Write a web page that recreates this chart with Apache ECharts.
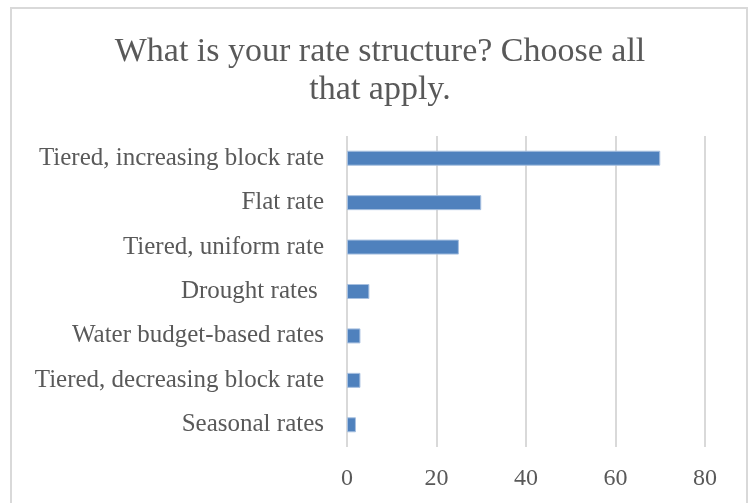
<!DOCTYPE html>
<html>
<head>
<meta charset="utf-8">
<style>
  html, body { margin: 0; padding: 0; background: #ffffff; }
  #chart { width: 748px; height: 503px; }
</style>
<script src="https://cdn.jsdelivr.net/npm/echarts@6/dist/echarts.min.js"></script>
</head>
<body>
<div id="chart"></div>
<script>
// Survey answers: rate structures in use (multiple choice allowed)
const categories = [
  'Tiered, increasing block rate',
  'Flat rate',
  'Tiered, uniform rate',
  'Drought rates ',
  'Water budget-based rates',
  'Tiered, decreasing block rate',
  'Seasonal rates'
];
const responses = [70, 30, 25, 5, 3, 3, 2];
const axisTicks = [0, 20, 40, 60, 80];

const serif = '"Liberation Serif", "DejaVu Serif", serif';
const textGray = '#595959';
const lineGray = '#d9d9d9';

const chart = echarts.init(document.getElementById('chart'), null, { renderer: 'canvas' });
chart.setOption({
  animation: false,
  backgroundColor: '#ffffff',
  title: {
    text: 'What is your rate structure? Choose all\nthat apply.',
    left: 375,
    textAlign: 'center',
    top: 28,
    textStyle: {
      fontFamily: serif,
      fontSize: 34,
      fontWeight: 'normal',
      color: textGray,
      lineHeight: 38
    }
  },
  graphic: [{
    type: 'rect',
    shape: { x: 11, y: 8, width: 736, height: 520 },
    style: { fill: 'none', stroke: lineGray, lineWidth: 2 },
    silent: true,
    z: -1
  }],
  grid: { left: 347, right: 43, top: 136, bottom: 56, containLabel: false },
  xAxis: {
    type: 'value',
    min: axisTicks[0],
    max: axisTicks[axisTicks.length - 1],
    interval: axisTicks[1] - axisTicks[0],
    axisLine: { show: false },
    axisTick: { show: false },
    splitLine: { show: true, lineStyle: { color: lineGray, width: 2 } },
    axisLabel: {
      margin: 20,
      fontFamily: serif,
      fontSize: 24,
      color: textGray
    }
  },
  yAxis: {
    type: 'category',
    data: categories,
    inverse: true,
    axisLine: { show: false },
    axisTick: { show: false },
    axisLabel: {
      margin: 23,
      fontFamily: serif,
      fontSize: 25,
      color: textGray
    }
  },
  series: [{
    type: 'bar',
    data: responses,
    barWidth: 15,
    itemStyle: {
      color: '#4f81bd',
      borderColor: '#a7c0e0',
      borderWidth: 1
    }
  }]
});
</script>
</body>
</html>
